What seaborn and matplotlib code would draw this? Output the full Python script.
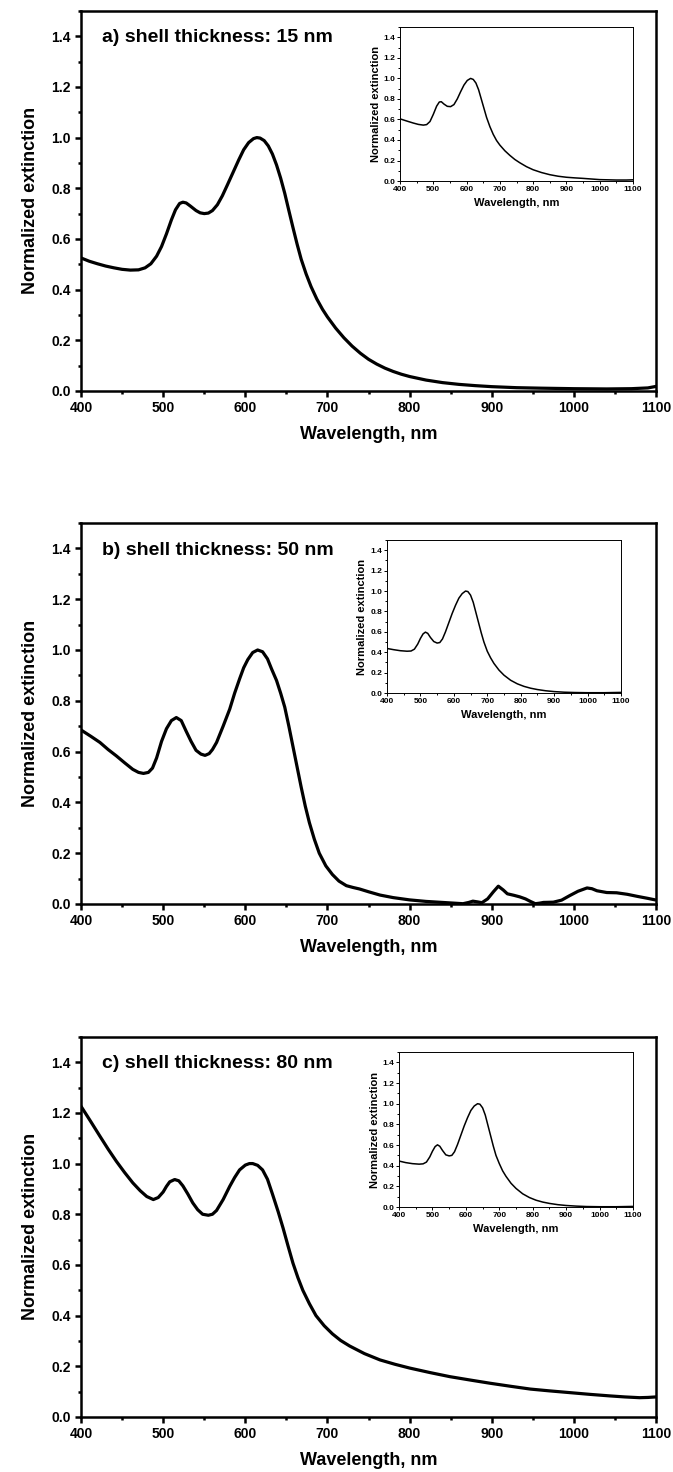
import numpy as np
import pandas as pd
import matplotlib
matplotlib.use("Agg")
import matplotlib.pyplot as plt
from matplotlib.ticker import MultipleLocator, FormatStrFormatter
import seaborn as sns

# ---------------- data ----------------
wl_a = [400, 410, 420, 430, 440, 450, 460, 470, 478, 485, 492, 498, 504, 510, 515, 520,
        524, 528, 533, 540, 545, 550, 555, 560, 566, 572, 578, 585, 592, 598, 604, 610,
        614, 618, 623, 628, 633, 638, 643, 648, 653, 658, 663, 668, 674, 680, 687, 694,
        700, 710, 720, 730, 740, 750, 760, 770, 780, 790, 800, 820, 840, 860, 880, 900,
        930, 960, 1000, 1040, 1070, 1090, 1100]
ext_a = [0.525, 0.512, 0.502, 0.493, 0.486, 0.480, 0.477, 0.478, 0.486, 0.502, 0.532,
         0.570, 0.620, 0.675, 0.715, 0.740, 0.745, 0.742, 0.730, 0.712, 0.703, 0.700,
         0.702, 0.712, 0.735, 0.770, 0.812, 0.862, 0.912, 0.952, 0.980, 0.996, 1.000,
         0.998, 0.988, 0.967, 0.935, 0.892, 0.840, 0.780, 0.712, 0.645, 0.580, 0.520,
         0.462, 0.412, 0.363, 0.322, 0.292, 0.248, 0.210, 0.177, 0.149, 0.125, 0.106,
         0.090, 0.077, 0.066, 0.057, 0.043, 0.033, 0.026, 0.021, 0.017, 0.013, 0.011,
         0.009, 0.008, 0.009, 0.012, 0.018]

wl_b = [400, 412, 423, 433, 443, 453, 463, 470, 476, 482, 487, 492, 498, 504, 510, 516,
        522, 528, 534, 540, 546, 551, 556, 560, 565, 573, 581, 587, 593, 598, 603, 609,
        615, 621, 627, 632, 638, 643, 648, 653, 658, 663, 668, 673, 678, 684, 690, 698,
        706, 714, 723, 731, 739, 750, 764, 780, 800, 820, 840, 855, 865, 872, 877, 883,
        888, 895, 902, 908, 914, 919, 927, 934, 941, 947, 953, 958, 963, 975, 985, 995,
        1005, 1016, 1022, 1028, 1040, 1052, 1065, 1077, 1090, 1099]
ext_b = [0.685, 0.660, 0.636, 0.608, 0.583, 0.556, 0.530, 0.518, 0.514, 0.518, 0.535,
         0.575, 0.640, 0.690, 0.722, 0.734, 0.722, 0.680, 0.640, 0.605, 0.590, 0.585,
         0.592, 0.608, 0.636, 0.700, 0.767, 0.830, 0.886, 0.930, 0.962, 0.990, 1.000,
         0.993, 0.965, 0.925, 0.880, 0.830, 0.775, 0.700, 0.620, 0.540, 0.460, 0.385,
         0.320, 0.255, 0.200, 0.150, 0.116, 0.090, 0.072, 0.065, 0.059, 0.048, 0.035,
         0.025, 0.016, 0.010, 0.006, 0.003, 0.001, 0.006, 0.011, 0.008, 0.005, 0.020,
         0.048, 0.070, 0.055, 0.040, 0.034, 0.028, 0.020, 0.010, 0.001, 0.003, 0.006,
         0.007, 0.015, 0.033, 0.050, 0.063, 0.060, 0.052, 0.045, 0.044, 0.038, 0.030,
         0.022, 0.016]

wl_c = [400, 412, 423, 433, 443, 453, 463, 472, 480, 488, 494, 500, 504, 508, 514, 519,
        524, 530, 536, 542, 548, 555, 560, 565, 573, 581, 587, 593, 600, 605, 609, 615,
        621, 627, 633, 640, 646, 652, 658, 664, 670, 678, 686, 696, 706, 716, 727, 745,
        764, 782, 800, 825, 849, 875, 898, 923, 947, 970, 995, 1020, 1044, 1062, 1080,
        1090, 1100]
ext_c = [1.226, 1.165, 1.108, 1.057, 1.009, 0.965, 0.924, 0.893, 0.870, 0.858, 0.866,
         0.888, 0.910, 0.928, 0.937, 0.932, 0.912, 0.880, 0.845, 0.818, 0.800, 0.796,
         0.800, 0.815, 0.858, 0.910, 0.945, 0.975, 0.994, 1.000, 1.000, 0.993, 0.975,
         0.938, 0.880, 0.810, 0.745, 0.675, 0.607, 0.550, 0.500, 0.447, 0.400, 0.360,
         0.328, 0.302, 0.280, 0.250, 0.225, 0.208, 0.193, 0.175, 0.159, 0.145, 0.133,
         0.121, 0.110, 0.103, 0.096, 0.089, 0.083, 0.079, 0.076, 0.077, 0.079]

# insets (calculated spectra)
wl_ia = [400, 420, 440, 455, 470, 480, 490, 500, 510, 518, 524, 532, 542, 552, 562, 572,
         582, 592, 602, 612, 620, 628, 636, 644, 652, 660, 670, 680, 690, 700, 715, 730,
         745, 760, 780, 800, 825, 850, 875, 900, 925, 950, 975, 1000, 1050, 1080, 1100]
ext_ia = [0.606, 0.585, 0.565, 0.552, 0.545, 0.550, 0.580, 0.650, 0.730, 0.770, 0.773,
          0.750, 0.728, 0.725, 0.745, 0.800, 0.870, 0.935, 0.980, 1.000, 0.990, 0.955,
          0.890, 0.800, 0.710, 0.620, 0.530, 0.455, 0.395, 0.350, 0.295, 0.250, 0.210,
          0.178, 0.140, 0.110, 0.083, 0.062, 0.047, 0.037, 0.031, 0.026, 0.020, 0.014,
          0.010, 0.010, 0.012]

wl_ib = [400, 420, 440, 460, 472, 482, 492, 500, 508, 515, 522, 530, 540, 550, 558, 566,
         575, 585, 595, 605, 615, 625, 635, 642, 650, 658, 666, 674, 682, 690, 700, 710,
         720, 735, 750, 770, 790, 810, 830, 850, 875, 900, 930, 960, 1000, 1050, 1100]
ext_ib = [0.437, 0.425, 0.415, 0.410, 0.412, 0.430, 0.480, 0.535, 0.580, 0.597, 0.585,
          0.545, 0.505, 0.490, 0.495, 0.530, 0.600, 0.690, 0.780, 0.860, 0.930, 0.975,
          1.000, 0.995, 0.960, 0.890, 0.790, 0.690, 0.590, 0.500, 0.410, 0.345, 0.290,
          0.225, 0.175, 0.125, 0.090, 0.065, 0.047, 0.034, 0.022, 0.014, 0.008, 0.005,
          0.003, 0.003, 0.006]

wl_ic = [400, 420, 440, 460, 472, 482, 492, 500, 508, 515, 522, 530, 540, 550, 558, 566,
         575, 585, 595, 605, 615, 625, 635, 642, 650, 658, 666, 674, 682, 690, 700, 710,
         720, 735, 750, 770, 790, 810, 830, 850, 875, 900, 930, 960, 1000, 1050, 1100]
ext_ic = [0.445, 0.430, 0.420, 0.415, 0.418, 0.435, 0.485, 0.540, 0.585, 0.602, 0.588,
          0.548, 0.505, 0.495, 0.500, 0.535, 0.605, 0.695, 0.785, 0.865, 0.935, 0.978,
          1.000, 0.995, 0.960, 0.890, 0.790, 0.690, 0.590, 0.500, 0.420, 0.350, 0.297,
          0.230, 0.180, 0.128, 0.092, 0.066, 0.048, 0.035, 0.023, 0.015, 0.009, 0.005,
          0.003, 0.003, 0.006]

labels = ["a) shell thickness: 15 nm", "b) shell thickness: 50 nm", "c) shell thickness: 80 nm"]
xlabel = "Wavelength, nm"
ylabel = "Normalized extinction"

# ---------------- style ----------------
sns.set_style("ticks")
plt.rcParams['font.family'] = ['Liberation Sans', 'DejaVu Sans']
plt.rcParams['font.weight'] = 'bold'
plt.rcParams['axes.labelweight'] = 'bold'
plt.rcParams['text.color'] = 'black'
plt.rcParams['axes.labelcolor'] = 'black'
plt.rcParams['xtick.color'] = 'black'
plt.rcParams['ytick.color'] = 'black'
plt.rcParams['axes.edgecolor'] = 'black'

fig = plt.figure(figsize=(6.73, 14.72), dpi=100)

main_pos = [[0.1204, 0.7344, 0.8544, 0.2582],
            [0.1204, 0.3859, 0.8544, 0.2588],
            [0.1204, 0.0374, 0.8544, 0.2582]]
inset_pos = [[0.5944, 0.8770, 0.3462, 0.1046],
             [0.5750, 0.5292, 0.3477, 0.1039],
             [0.5929, 0.1800, 0.3477, 0.1053]]

mains = [(wl_a, ext_a), (wl_b, ext_b), (wl_c, ext_c)]
insets = [(wl_ia, ext_ia), (wl_ib, ext_ib), (wl_ic, ext_ic)]


def style_axes(ax, lw, tick_fs, label_fs, maj_len, min_len, pad):
    ax.set_xlim(400, 1100)
    ax.set_ylim(0, 1.5)
    ax.xaxis.set_major_locator(MultipleLocator(100))
    ax.xaxis.set_minor_locator(MultipleLocator(50))
    ax.yaxis.set_major_locator(MultipleLocator(0.2))
    ax.yaxis.set_minor_locator(MultipleLocator(0.1))
    ax.yaxis.set_major_formatter(FormatStrFormatter('%.1f'))
    for s in ax.spines.values():
        s.set_visible(True)
        s.set_linewidth(lw)
        s.set_color('black')
    ax.tick_params(which='major', direction='out', length=maj_len, width=lw,
                   labelsize=tick_fs, pad=pad, colors='black')
    ax.tick_params(which='minor', direction='out', length=min_len, width=lw)
    for lab in ax.get_xticklabels() + ax.get_yticklabels():
        lab.set_fontweight('bold')
    ax.set_xlabel(xlabel, fontsize=label_fs, fontweight='bold')
    ax.set_ylabel(ylabel, fontsize=label_fs, fontweight='bold')


for i in range(3):
    ax = fig.add_axes(main_pos[i])
    df = pd.DataFrame({"wl": mains[i][0], "ext": mains[i][1]})
    sns.lineplot(data=df, x="wl", y="ext", ax=ax, color='black', linewidth=2.3)
    style_axes(ax, 1.8, 10, 13, 4.5, 2.5, 3)
    ax.xaxis.labelpad = 8
    ax.yaxis.labelpad = 9
    ax.text(0.037, 0.929, labels[i], transform=ax.transAxes, fontsize=14,
            fontweight='bold', va='center', ha='left')

    axi = fig.add_axes(inset_pos[i])
    dfi = pd.DataFrame({"wl": insets[i][0], "ext": insets[i][1]})
    sns.lineplot(data=dfi, x="wl", y="ext", ax=axi, color='black', linewidth=1.1)
    style_axes(axi, 0.7, 6, 8, 2, 1.2, 1.5)
    axi.xaxis.labelpad = 4
    axi.yaxis.labelpad = 2

fig.savefig("out.png", dpi=100)
